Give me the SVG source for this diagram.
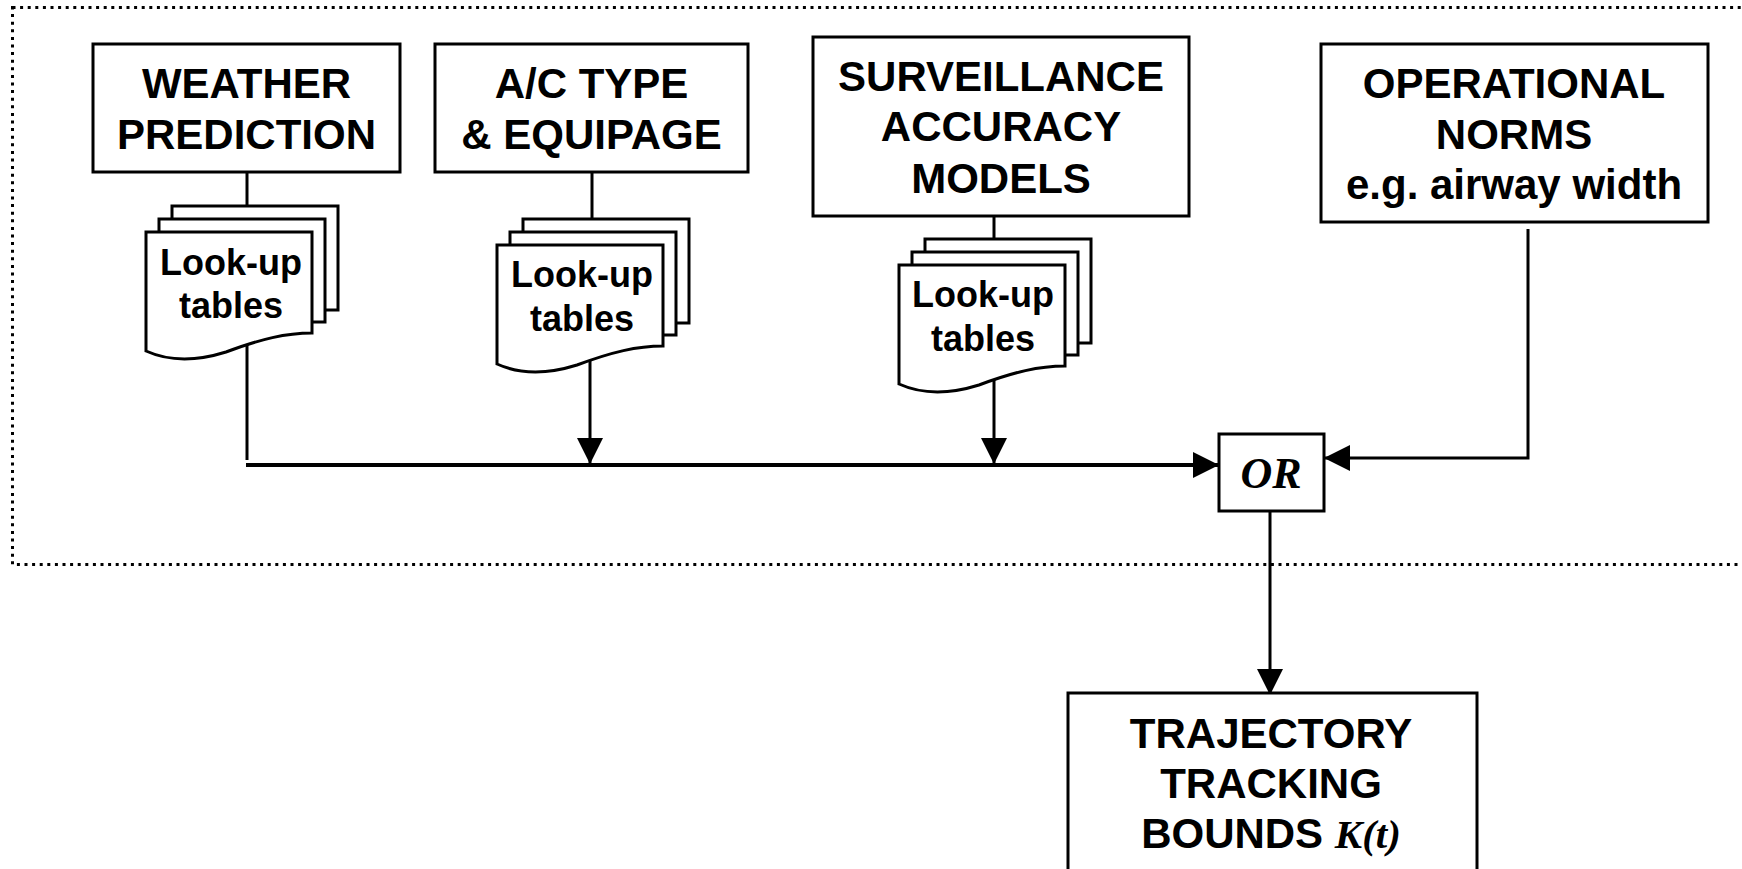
<svg xmlns="http://www.w3.org/2000/svg" xmlns:xlink="http://www.w3.org/1999/xlink" width="1742" height="869" viewBox="0 0 1742 869">
<style>
.box{fill:#fff;stroke:#000;stroke-width:3}
.sheet{fill:#fff;stroke:#000;stroke-width:3}
.t{font-family:"Liberation Sans",Arial,sans-serif;font-weight:bold;font-size:42px;text-anchor:middle;fill:#000}
.lt{font-family:"Liberation Sans",Arial,sans-serif;font-weight:bold;font-size:36px;text-anchor:middle;fill:#000}
.it{font-family:"Liberation Serif","Times New Roman",serif;font-weight:bold;font-style:italic}
.ln{fill:none;stroke:#000;stroke-width:3}
.main{fill:none;stroke:#000;stroke-width:4}
.frame{fill:none;stroke:#000;stroke-width:3;stroke-dasharray:3 4.6}
</style>
<defs>
<marker id="ah" viewBox="0 0 26 26" refX="26" refY="13" markerWidth="26" markerHeight="26" markerUnits="userSpaceOnUse" orient="auto">
<path d="M0,0 L26,13 L0,26 Z" fill="#000"/>
</marker>
<g id="stack">
<rect class="sheet" x="26" y="-26" width="166" height="104"/>
<rect class="sheet" x="13" y="-13" width="166" height="103"/>
<path class="sheet" d="M0,0 H166 V101 C140,101 115,107 80,120 C45,131 20,128 0,119 Z"/>
</g>
</defs>

<rect class="frame" x="12.5" y="7.5" width="1800" height="557"/>

<g id="connectors">
<line class="ln" x1="247" y1="172" x2="247" y2="206"/>
<line class="ln" x1="247" y1="345" x2="247" y2="460"/>
<line class="ln" x1="592" y1="172" x2="592" y2="219"/>
<line class="ln" x1="590" y1="360" x2="590" y2="464" marker-end="url(#ah)"/>
<line class="ln" x1="994" y1="216" x2="994" y2="239"/>
<line class="ln" x1="994" y1="380" x2="994" y2="464" marker-end="url(#ah)"/>
<line class="main" x1="246" y1="465" x2="1219" y2="465" marker-end="url(#ah)"/>
<path class="ln" d="M1528,229 V458 H1324" marker-end="url(#ah)"/>
<line class="ln" x1="1270" y1="511" x2="1270" y2="695" marker-end="url(#ah)"/>
</g>

<g id="weather">
<rect class="box" x="93" y="44" width="307" height="128"/>
<text class="t" x="246.5" y="98">WEATHER</text>
<text class="t" x="246.5" y="149">PREDICTION</text>
</g>
<g id="weather-tables">
<use xlink:href="#stack" href="#stack" transform="translate(146,232)"/>
<text class="lt" x="231" y="275">Look-up</text>
<text class="lt" x="231" y="318">tables</text>
</g>

<g id="actype">
<rect class="box" x="435" y="44" width="313" height="128"/>
<text class="t" x="591.5" y="98">A/C TYPE</text>
<text class="t" x="591.5" y="149">&amp; EQUIPAGE</text>
</g>
<g id="actype-tables">
<use xlink:href="#stack" href="#stack" transform="translate(497,245)"/>
<text class="lt" x="582" y="287">Look-up</text>
<text class="lt" x="582" y="331">tables</text>
</g>

<g id="surveillance">
<rect class="box" x="813" y="37" width="376" height="179"/>
<text class="t" x="1001" y="91">SURVEILLANCE</text>
<text class="t" x="1001" y="141">ACCURACY</text>
<text class="t" x="1001" y="193">MODELS</text>
</g>
<g id="surveillance-tables">
<use xlink:href="#stack" href="#stack" transform="translate(899,265)"/>
<text class="lt" x="983" y="307">Look-up</text>
<text class="lt" x="983" y="351">tables</text>
</g>

<g id="operational">
<rect class="box" x="1321" y="44" width="387" height="178"/>
<text class="t" x="1514" y="98">OPERATIONAL</text>
<text class="t" x="1514" y="149">NORMS</text>
<text class="t" x="1514" y="199">e.g. airway width</text>
</g>

<g id="or">
<rect class="box" x="1219" y="434" width="105" height="77"/>
<text class="it" x="1271" y="488" font-size="44" text-anchor="middle">OR</text>
</g>

<g id="trajectory">
<rect class="box" x="1068" y="693" width="409" height="200"/>
<text class="t" x="1271" y="748">TRAJECTORY</text>
<text class="t" x="1271" y="798">TRACKING</text>
<text class="t" x="1271" y="848">BOUNDS <tspan class="it" font-size="41">K(t)</tspan></text>
</g>
</svg>
